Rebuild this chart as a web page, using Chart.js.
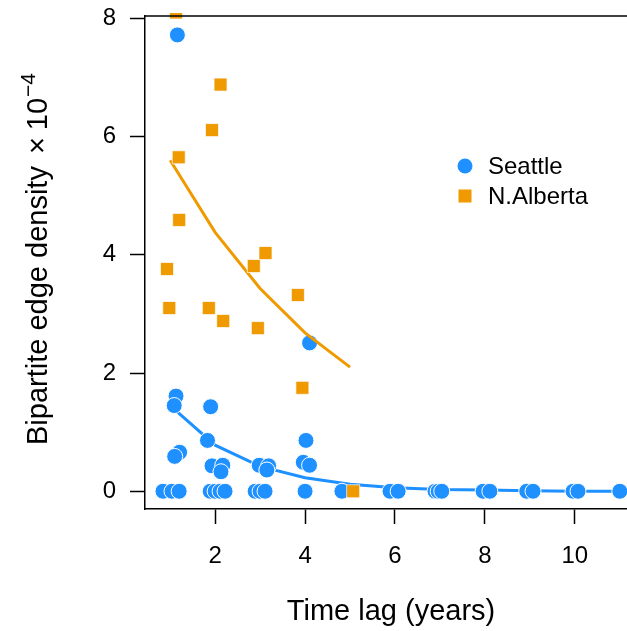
<!DOCTYPE html>
<html>
<head>
<meta charset="utf-8">
<script src="https://cdn.jsdelivr.net/npm/chart.js@4.4.0/dist/chart.umd.min.js"></script>
<style>
  html, body { margin: 0; padding: 0; background: #fff; }
</style>
</head>
<body>
<canvas id="lagChart" width="627" height="631"></canvas>
<script>
/* edge density vs. time lag, two sites */

// Seattle observations (density in units of 1e-4)
const seattleX = [1.16, 1.13, 1.09, 1.90, 1.83, 1.21, 1.10, 1.93, 2.17, 2.13, 2.98, 3.19, 3.15,
                  4.10, 4.02, 3.96, 4.10,
                  0.84, 1.04, 1.20, 1.89, 2.00, 2.11, 2.22, 2.89, 3.00, 3.11, 4.00, 4.82,
                  5.89, 6.07, 6.89, 6.96, 7.04, 7.96, 8.11, 8.93, 9.07, 9.96, 10.07, 11.00];
const seattleY = [7.72, 1.61, 1.45, 1.43, 0.86, 0.66, 0.59, 0.43, 0.44, 0.33, 0.44, 0.43, 0.36,
                  2.51, 0.86, 0.49, 0.44,
                  0, 0, 0, 0, 0, 0, 0, 0, 0, 0, 0, 0,
                  0, 0, 0, 0, 0, 0, 0, 0, 0, 0, 0, 0];

// N.Alberta observations
const albertaX = [1.13, 2.12, 1.93, 1.19, 1.20, 0.93, 0.98, 1.86, 2.18, 3.12, 2.86, 2.95, 3.84, 3.94, 5.07];
const albertaY = [8.10, 6.88, 6.11, 5.65, 4.59, 3.76, 3.10, 3.10, 2.88, 4.03, 3.81, 2.76, 3.32, 1.75, 0.00];

// fitted decay curves
const seattleFitX = [1, 2, 3, 4, 5, 6, 7, 8, 9, 10, 11, 12];
const seattleFitY = [1.45, 0.78, 0.42, 0.23, 0.12, 0.06, 0.03, 0.02, 0.01, 0, 0, 0];
const albertaFitX = [1, 2, 3, 4, 5];
const albertaFitY = [5.60, 4.38, 3.43, 2.68, 2.10];

const xTicks = [2, 4, 6, 8, 10];
const yTicks = [0, 2, 4, 6, 8];

const BLUE = '#1E90FF';
const ORANGE = '#EE9A00';
const FONT = "'Liberation Sans', Arial, Helvetica, sans-serif";

function toPoints(xs, ys) {
  return xs.map((x, i) => ({ x: x, y: ys[i] }));
}

// box top edge, axis titles and the in-plot legend
const decorPlugin = {
  id: 'decor',
  afterDraw(chart) {
    const ctx = chart.ctx;
    const area = chart.chartArea;
    ctx.save();

    ctx.strokeStyle = '#000';
    ctx.lineWidth = 1.5;
    ctx.beginPath();
    ctx.moveTo(area.left, area.top);
    ctx.lineTo(chart.width, area.top);
    ctx.stroke();

    ctx.fillStyle = '#000';
    ctx.font = '29px ' + FONT;
    ctx.textAlign = 'center';
    ctx.textBaseline = 'alphabetic';
    ctx.fillText('Time lag (years)', 391, 620);

    // y title with a superscript exponent
    ctx.translate(47, 445);
    ctx.rotate(-Math.PI / 2);
    ctx.textAlign = 'left';
    const main = 'Bipartite edge density';
    ctx.fillText(main, 0, 0);
    let pos = ctx.measureText(main).width + 12;
    ctx.fillText('\u00D7', pos, 0);
    pos += ctx.measureText('\u00D7').width + 7;
    ctx.fillText('10', pos, 0);
    pos += ctx.measureText('10').width + 1;
    ctx.font = '21px ' + FONT;
    ctx.fillText('\u22124', pos, -12);
    ctx.setTransform(1, 0, 0, 1, 0, 0);

    // legend
    ctx.beginPath();
    ctx.arc(465, 166, 7.5, 0, Math.PI * 2);
    ctx.fillStyle = BLUE;
    ctx.fill();
    ctx.fillStyle = ORANGE;
    ctx.fillRect(458.5, 189.5, 13, 13);
    ctx.fillStyle = '#000';
    ctx.font = '24px ' + FONT;
    ctx.textAlign = 'left';
    ctx.textBaseline = 'middle';
    ctx.fillText('Seattle', 488, 167);
    ctx.fillText('N.Alberta', 488, 197);

    ctx.restore();
  }
};

const config = {
  type: 'scatter',
  data: {
    datasets: [
      {
        label: 'Seattle fit',
        data: toPoints(seattleFitX, seattleFitY),
        showLine: true,
        pointRadius: 0,
        borderColor: BLUE,
        borderWidth: 3,
        order: 4
      },
      {
        label: 'Seattle',
        data: toPoints(seattleX, seattleY),
        pointStyle: 'circle',
        pointRadius: 8,
        backgroundColor: BLUE,
        borderColor: '#fff',
        borderWidth: 1,
        order: 3
      },
      {
        label: 'N.Alberta fit',
        data: toPoints(albertaFitX, albertaFitY),
        showLine: true,
        pointRadius: 0,
        borderColor: ORANGE,
        borderWidth: 3,
        order: 2
      },
      {
        label: 'N.Alberta',
        data: toPoints(albertaX, albertaY),
        pointStyle: 'rect',
        pointRadius: 9.2,
        backgroundColor: ORANGE,
        borderColor: 'rgba(255,255,255,0.7)',
        borderWidth: 1,
        clip: { left: 10, top: 3, right: 10, bottom: 10 },
        order: 1
      }
    ]
  },
  options: {
    responsive: false,
    animation: false,
    events: [],
    layout: {
      autoPadding: false,
      padding: { top: 16, right: 0, bottom: 0, left: 0 }
    },
    plugins: {
      legend: { display: false },
      tooltip: { enabled: false }
    },
    scales: {
      x: {
        type: 'linear',
        min: 0.44,
        max: 11.16,
        afterBuildTicks: (scale) => { scale.ticks = xTicks.map(v => ({ value: v })); },
        afterFit: (scale) => { scale.height = 122; scale.paddingLeft = 0; scale.paddingRight = 0; },
        grid: { drawOnChartArea: false, tickLength: 15, tickWidth: 1.5, tickColor: '#000' },
        border: { display: true, color: '#000', width: 1.5 },
        ticks: { color: '#000', padding: 18, maxRotation: 0, font: { family: FONT, size: 24 } }
      },
      y: {
        type: 'linear',
        min: -0.30,
        max: 8.04,
        afterBuildTicks: (scale) => { scale.ticks = yTicks.map(v => ({ value: v })); },
        afterFit: (scale) => { scale.width = 145; scale.paddingTop = 0; scale.paddingBottom = 0; },
        grid: { drawOnChartArea: false, tickLength: 15, tickWidth: 1.5, tickColor: '#000' },
        border: { display: true, color: '#000', width: 1.5 },
        ticks: { color: '#000', padding: 14, font: { family: FONT, size: 24 } }
      }
    }
  },
  plugins: [decorPlugin]
};

new Chart(document.getElementById('lagChart').getContext('2d'), config);
</script>
</body>
</html>
